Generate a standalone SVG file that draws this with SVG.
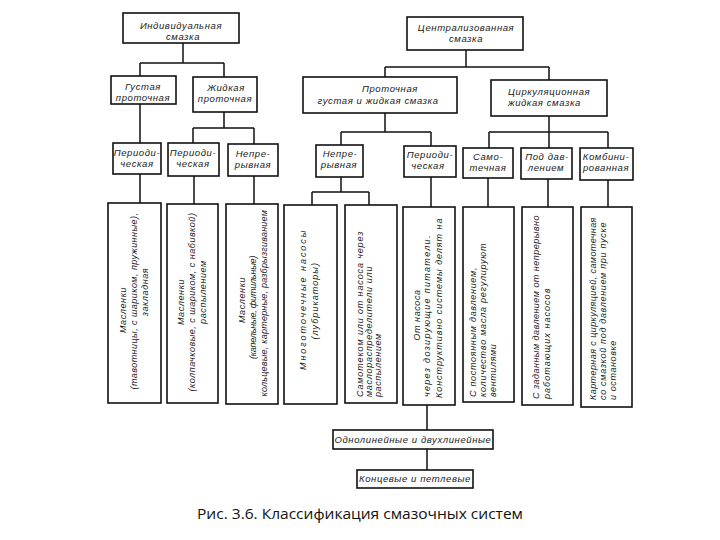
<svg xmlns="http://www.w3.org/2000/svg" width="720" height="540" viewBox="0 0 720 540">
<style>
rect.b{fill:#fff;stroke:#111;stroke-width:1.6}
.c path{fill:none;stroke:#111;stroke-width:1.5}
text{font-family:"Liberation Sans","DejaVu Sans",sans-serif;font-style:italic;fill:#1a1a1a}
.h{font-size:9.5px;letter-spacing:0.6px;text-anchor:middle}
.v{font-size:9px;letter-spacing:0.6px}
.m{text-anchor:middle}
.cap{font-family:"Open Sans","Liberation Sans",sans-serif;font-style:normal;font-size:15px;fill:#111;text-anchor:middle}
</style>
<rect width="720" height="540" fill="#fff"/>
<g class="c" id="connectors">
<path d="M183 43V63M140 63H224M140 63V76M224 63V77"/>
<path d="M466 50V67M385 67H549M385 67V77M549 67V80"/>
<path d="M140 104V143M140 174V203"/>
<path d="M224 112V128M193 128H254M193 128V143M254 128V144M194 176V204M254 176V204"/>
<path d="M385 113V132M341 132H431M341 132V145M431 132V146"/>
<path d="M341 177V192M312 192H369M312 192V205M369 192V205M431 177V207"/>
<path d="M549 116V132M489 132H608M489 132V148M549 132V148M608 132V148"/>
<path d="M488 178V207M548 179V207M608 180V207"/>
<path d="M427 405V430M427 449V470"/>
</g>
<g id="n-ind"><rect class="b" x="123" y="13" width="116" height="30"/><text class="h" x="181" y="29">Индивидуальная</text><text class="h" x="183" y="40">смазка</text></g>
<g id="n-cen"><rect class="b" x="407" y="17" width="116" height="33"/><text class="h" x="466" y="31">Централизованная</text><text class="h" x="466" y="42">смазка</text></g>
<g id="n-gust"><rect class="b" x="111" y="76" width="65" height="28"/><text class="h" x="143" y="90">Густая</text><text class="h" x="143" y="101">проточная</text></g>
<g id="n-zhid"><rect class="b" x="193" y="77" width="64" height="35"/><text class="h" x="226" y="91">Жидкая</text><text class="h" x="225" y="102">проточная</text></g>
<g id="n-prot"><rect class="b" x="303" y="77" width="154" height="36"/><text class="h" x="390" y="92">Проточная</text><text class="h" x="378" y="104">густая и жидкая смазка</text></g>
<g id="n-circ"><rect class="b" x="491" y="80" width="116" height="36"/><text class="h" x="508" y="95" style="text-anchor:start">Циркуляционная</text><text class="h" x="508" y="106" style="text-anchor:start">жидкая смазка</text></g>
<g id="n-per1"><rect class="b" x="113" y="143" width="48" height="31"/><text class="h" x="137" y="156">Периоди-</text><text class="h" x="137" y="167">ческая</text></g>
<g id="n-per2"><rect class="b" x="168" y="143" width="51" height="33"/><text class="h" x="193" y="156">Периоди-</text><text class="h" x="193" y="167">ческая</text></g>
<g id="n-nep1"><rect class="b" x="228" y="144" width="50" height="32"/><text class="h" x="253" y="157">Непре-</text><text class="h" x="253" y="168">рывная</text></g>
<g id="n-nep2"><rect class="b" x="316" y="145" width="47" height="32"/><text class="h" x="340" y="157">Непре-</text><text class="h" x="339" y="168">рывная</text></g>
<g id="n-per3"><rect class="b" x="404" y="146" width="52" height="31"/><text class="h" x="430" y="158">Периоди-</text><text class="h" x="428" y="169">ческая</text></g>
<g id="n-samo"><rect class="b" x="463" y="148" width="50" height="30"/><text class="h" x="488" y="160">Само-</text><text class="h" x="488" y="171">течная</text></g>
<g id="n-pod"><rect class="b" x="521" y="148" width="51" height="31"/><text class="h" x="547" y="160">Под дав-</text><text class="h" x="546" y="171">лением</text></g>
<g id="n-komb"><rect class="b" x="580" y="148" width="53" height="32"/><text class="h" x="606" y="160">Комбини-</text><text class="h" x="606" y="171">рованная</text></g>
<g id="n-v1"><rect class="b" x="108" y="203" width="53" height="200"/>
<text class="v m" transform="translate(126,310) rotate(-90)">Масленки</text>
<text class="v m" transform="translate(137,301) rotate(-90)" textLength="177">(тавотницы, с шариком, пружинные),</text>
<text class="v m" transform="translate(148,292) rotate(-90)">закладная</text></g>
<g id="n-v2"><rect class="b" x="167" y="204" width="51" height="199"/>
<text class="v m" transform="translate(184,302) rotate(-90)">Масленки</text>
<text class="v m" transform="translate(195,302) rotate(-90)" textLength="179">(колпачковые, с шариком, с набивкой)</text>
<text class="v m" transform="translate(206,292) rotate(-90)">распылением</text></g>
<g id="n-v3"><rect class="b" x="226" y="204" width="52" height="200"/>
<text class="v m" transform="translate(245,300) rotate(-90)">Масленки</text>
<text class="v m" transform="translate(256,307) rotate(-90)" textLength="104">(капельные, фитильные)</text>
<text class="v m" transform="translate(267,303) rotate(-90)" textLength="187">кольцевые, картерные, разбрызгиванием</text></g>
<g id="n-v4"><rect class="b" x="284" y="205" width="53" height="199"/>
<text class="v m" transform="translate(306,300) rotate(-90)" textLength="140">Многоточечные насосы</text>
<text class="v m" transform="translate(318,301) rotate(-90)" textLength="77">(лубрикаторы)</text></g>
<g id="n-v5"><rect class="b" x="345" y="205" width="52" height="198"/>
<text class="v" transform="translate(363,397) rotate(-90)" textLength="166">Самотеком или от насоса через</text>
<text class="v" transform="translate(372,397) rotate(-90)" textLength="131">маслораспределители или</text>
<text class="v" transform="translate(381,397) rotate(-90)">распылением</text></g>
<g id="n-v6"><rect class="b" x="403" y="207" width="52" height="198"/>
<text class="v m" transform="translate(420,315) rotate(-90)">От насоса</text>
<text class="v" transform="translate(430,397) rotate(-90)" textLength="162">через дозирующие питатели.</text>
<text class="v" transform="translate(442,398) rotate(-90)" textLength="180">Конструктивно системы делят на</text></g>
<g id="n-v7"><rect class="b" x="463" y="207" width="51" height="195"/>
<text class="v" transform="translate(476,397) rotate(-90)" textLength="130">С постоянным давлением,</text>
<text class="v" transform="translate(486,397) rotate(-90)" textLength="154">количество масла регулируют</text>
<text class="v" transform="translate(496,397) rotate(-90)">вентилями</text></g>
<g id="n-v8"><rect class="b" x="522" y="207" width="51" height="198"/>
<text class="v" transform="translate(539,399) rotate(-90)" textLength="184">С заданным давлением от непрерывно</text>
<text class="v" transform="translate(550,399) rotate(-90)" textLength="111">работающих насосов</text></g>
<g id="n-v9"><rect class="b" x="581" y="207" width="51" height="200"/>
<text class="v" transform="translate(596,400) rotate(-90)" textLength="183">Картерная с циркуляцией, самотечная</text>
<text class="v" transform="translate(606,400) rotate(-90)" textLength="178">со смазкой под давлением при пуске</text>
<text class="v" transform="translate(616,400) rotate(-90)">и остановке</text></g>
<g id="n-odno"><rect class="b" x="333" y="430" width="160" height="19"/><text class="h" x="413" y="443">Однолинейные и двухлинейные</text></g>
<g id="n-konc"><rect class="b" x="357" y="470" width="116" height="18"/><text class="h" x="415" y="482">Концевые и петлевые</text></g>
<text class="cap" x="360" y="519" textLength="326" lengthAdjust="spacingAndGlyphs">Рис. 3.6. Классификация смазочных систем</text>
</svg>
